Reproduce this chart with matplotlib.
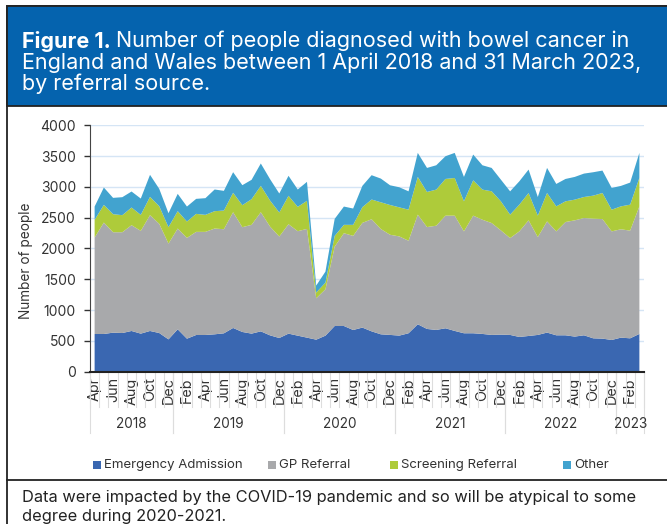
import matplotlib
matplotlib.use("Agg")
import matplotlib.pyplot as plt
from matplotlib.patches import Rectangle
from matplotlib.lines import Line2D

plt.rcParams['font.family'] = ['Inter', 'DejaVu Sans']

# monthly values, Apr 2018 - Mar 2023
emergency = [612, 612, 634, 628, 661, 618, 661, 628, 525, 688, 536, 596,
             596, 607, 623, 710, 645, 618, 655, 590, 547, 618, 585, 553,
             520, 585, 742, 742, 677, 716, 655, 607, 597, 586, 624, 770,
             694, 678, 705, 662, 624, 624, 613, 597, 602, 597, 564, 580,
             597, 635, 591, 591, 570, 591, 542, 537, 515, 553, 542, 613]
gp_referral = [1566, 1809, 1630, 1636, 1717, 1668, 1880, 1772, 1555, 1636, 1636, 1674,
               1674, 1717, 1690, 1879, 1701, 1766, 1934, 1766, 1647, 1776, 1696, 1765,
               672, 753, 1289, 1506, 1528, 1700, 1820, 1709, 1626, 1610, 1502, 1779,
               1654, 1692, 1828, 1871, 1654, 1909, 1854, 1816, 1692, 1572, 1714, 1877,
               1588, 1805, 1687, 1839, 1887, 1904, 1942, 1941, 1763, 1759, 1748, 2071]
screening = [287, 287, 293, 277, 287, 260, 297, 287, 266, 282, 266, 292,
             276, 282, 303, 315, 357, 417, 428, 423, 390, 461, 395, 456,
             92, 108, 174, 136, 179, 255, 320, 434, 483, 472, 504, 613,
             570, 586, 596, 612, 488, 574, 489, 516, 472, 380, 434, 444,
             348, 461, 406, 336, 336, 341, 374, 423, 352, 372, 422, 461]
other = [216, 282, 265, 292, 260, 265, 358, 281, 227, 281, 243, 244,
         271, 352, 320, 335, 325, 314, 363, 347, 309, 325, 282, 308,
         114, 179, 276, 297, 265, 346, 395, 385, 320, 326, 298, 390,
         390, 395, 369, 407, 396, 418, 395, 379, 352, 379, 379, 380,
         303, 407, 364, 363, 369, 380, 380, 364, 353, 332, 358, 407]

series_names = ['Emergency Admission', 'GP Referral', 'Screening Referral', 'Other']
colours = ['#3A67B1', '#A8A9AB', '#AECB3A', '#42A3CF']

month_names = ['Jan', 'Feb', 'Mar', 'Apr', 'May', 'Jun',
               'Jul', 'Aug', 'Sep', 'Oct', 'Nov', 'Dec']
start_month = 3  # April
start_year = 2018
n = len(emergency)
months = [month_names[(start_month + i) % 12] for i in range(n)]
years = [start_year + (start_month + i) // 12 for i in range(n)]

fig = plt.figure(figsize=(6.67, 5.24), dpi=100)
W, H = 667, 524

def fx(px):
    return px / W

def fy(py):
    return 1 - py / H

# frame, title box and separator
fig.patches.append(Rectangle((fx(6.5), fy(530)), fx(700), fy(6) - fy(530),
                             transform=fig.transFigure, fill=False,
                             edgecolor='#222222', linewidth=1.3))
fig.patches.append(Rectangle((fx(6.5), fy(105.5)), fx(700), fy(6) - fy(105.5),
                             transform=fig.transFigure, facecolor='#0563AE',
                             edgecolor='#222222', linewidth=1.3))
fig.lines.append(Line2D([fx(6.5), 1], [fy(480), fy(480)], transform=fig.transFigure,
                        color='#222222', linewidth=1.3))

# title
title_size = 15.5
t1 = fig.text(fx(22), fy(41), 'Figure 1.', color='white', fontsize=title_size,
              fontweight='bold', va='center', ha='left')
fig.canvas.draw()
bb = t1.get_window_extent()
fig.text(bb.x1 / W + fx(5), fy(41), 'Number of people diagnosed with bowel cancer in',
         color='white', fontsize=title_size, va='center', ha='left')
fig.text(fx(22), fy(62.5), 'England and Wales between 1 April 2018 and 31 March 2023,',
         color='white', fontsize=title_size, va='center', ha='left')
fig.text(fx(22), fy(84), 'by referral source.',
         color='white', fontsize=title_size, va='center', ha='left')

# chart
ax = fig.add_axes([fx(90), fy(371.7), fx(644 - 90), fy(125.3) - fy(371.7)])
x = list(range(n))
ax.stackplot(x, emergency, gp_referral, screening, other, colors=colours,
             linewidth=0)
ax.set_xlim(-0.5, n - 0.5)
ax.set_ylim(0, 4000)
ax.set_yticks(range(0, 4001, 500))
ax.tick_params(axis='y', labelsize=10, colors='#333333', length=4, width=1,
               labelcolor='#333333', pad=6)
ax.yaxis.grid(True, color='#D5E5F5', linewidth=1)
ax.set_axisbelow(True)
for s in ['top', 'right']:
    ax.spines[s].set_visible(False)
ax.spines['left'].set_color('#444444')
ax.spines['bottom'].set_color('#222222')
ax.spines['bottom'].set_linewidth(1.5)
ax.set_ylabel('Number of people', fontsize=9.8, color='#333333')
ax.yaxis.set_label_coords(-0.103, 0.449)

ax.set_xticks(x[::2])
ax.set_xticklabels(months[::2], rotation=90, fontsize=10.3, color='#333333')
ax.tick_params(axis='x', length=0, pad=4)

# month boundary lines and year groups
trans = ax.get_xaxis_transform()
for b in range(n + 1):
    ax.plot([b - 0.5, b - 0.5], [0, -0.145], transform=trans, color='#DDDDDD',
            linewidth=0.8, clip_on=False)
groups = {}
for i, yr in enumerate(years):
    groups.setdefault(yr, []).append(i)
for yr, idx in groups.items():
    lo, hi = idx[0] - 0.5, idx[-1] + 0.5
    for b in (lo, hi):
        ax.plot([b, b], [0, -0.25], transform=trans, color='#DDDDDD',
                linewidth=0.8, clip_on=False)
    ax.text((lo + hi) / 2, -0.212, str(yr), transform=trans, ha='center',
            va='center', fontsize=9.8, color='#333333')

# legend
legend_x = [93, 268, 390, 563]
for name, col, lx in zip(series_names, colours, legend_x):
    fig.patches.append(Rectangle((fx(lx), fy(469)), fx(8), fy(461) - fy(469),
                                 transform=fig.transFigure, facecolor=col,
                                 edgecolor='none'))
    fig.text(fx(lx + 11), fy(465), name, fontsize=9.5, color='#333333',
             va='center', ha='left')

# footnote
fig.text(fx(22), fy(497.5), 'Data were impacted by the COVID-19 pandemic and so will be atypical to some',
         fontsize=11.8, color='#222222', va='center', ha='left')
fig.text(fx(22), fy(516), 'degree during 2020-2021.',
         fontsize=11.8, color='#222222', va='center', ha='left')

fig.savefig('out.png', dpi=100)
